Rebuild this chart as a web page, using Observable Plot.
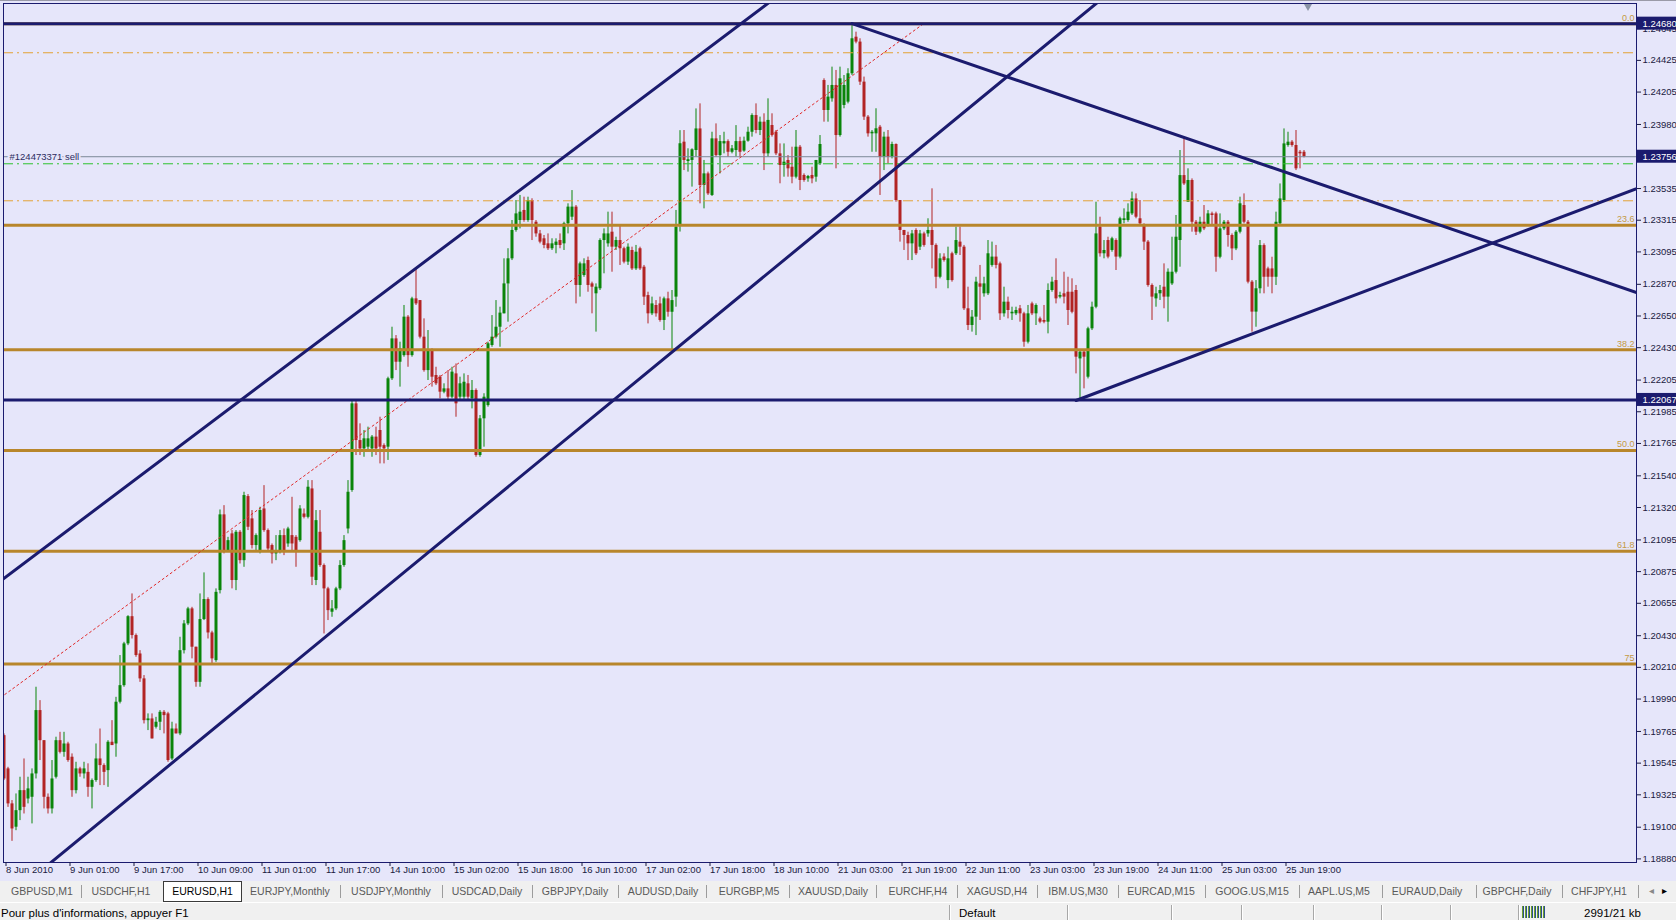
<!DOCTYPE html>
<html><head><meta charset="utf-8">
<script src="https://cdn.jsdelivr.net/npm/d3@7"></script>
<script src="https://cdn.jsdelivr.net/npm/@observablehq/plot@0.6"></script>
<style>
html,body{margin:0;padding:0;width:1676px;height:920px;overflow:hidden;background:#E6E6FA;font-family:"Liberation Sans",Arial,sans-serif;}
#chart{position:absolute;left:0;top:0;}
#topline{position:absolute;left:0;top:0;width:1676px;height:1px;background:#9A9AA8;}
#tabs{position:absolute;left:0;top:881px;width:1676px;height:21px;background:#F0F0F0;}
.tab{position:absolute;top:4px;font-size:10.5px;color:#5A5A5A;white-space:nowrap;transform:translateX(-50%);}
.tsep{position:absolute;top:4px;width:1px;height:13px;background:#9C9C9C;}
.active{position:absolute;left:163px;top:0px;width:77px;height:19px;background:#FFFFFF;border:1px solid #3A3A3A;color:#000;font-size:10.5px;line-height:19px;text-align:center;}
#status{position:absolute;left:0;top:902px;width:1676px;height:18px;background:#F0F0F0;border-top:1px solid #FFFFFF;}
.stxt{position:absolute;top:4px;font-size:11.5px;color:#000;white-space:nowrap;}
.ssep{position:absolute;top:2px;width:1px;height:15px;background:#A8A8A8;border-right:1px solid #FFFFFF;}
#icon{position:absolute;left:1522px;top:3px;width:23px;height:12px;background:repeating-linear-gradient(90deg,#6E9E2C 0 1px,#2B4F8F 1px 2px,#F0F0F0 2px 3px);}
</style></head>
<body>
<div id="chart"></div>
<div id="topline"></div>
<div id="tabs"></div>
<div id="status"></div>
<script>
// ---------- data: EURUSD H1, 8 Jun 2010 09:00 .. 25 Jun 2010 ----------
const open = [
1.19736,1.19505,1.19262,1.19100,1.19215,1.19354,1.19296,1.19308,1.19470,1.19910,
1.19701,1.19308,1.19227,1.19447,1.19701,1.19620,1.19678,1.19586,1.19354,1.19505,
1.19470,1.19481,1.19377,1.19424,1.19574,1.19528,1.19493,1.19690,1.19678,1.19968,
1.20083,1.20373,1.20562,1.20431,1.20303,1.20130,1.19840,1.19852,1.19794,1.19829,
1.19898,1.19887,1.19574,1.19782,1.19748,1.20326,1.20512,1.20616,1.20350,1.20106,
1.20542,1.20681,1.20449,1.20257,1.20743,1.21269,1.21021,1.21137,1.20813,1.21148,
1.20951,1.21396,1.21241,1.21056,1.21009,1.21310,1.21160,1.21056,1.20998,1.21021,
1.21125,1.21067,1.21125,1.21113,1.21090,1.21275,1.21252,1.21449,1.20813,1.21148,
1.20917,1.20755,1.20593,1.20616,1.20755,1.20917,1.21171,1.21438,1.22040,1.21785,
1.21727,1.21739,1.21727,1.21809,1.21855,1.21750,1.21739,1.22214,1.22491,1.22329,
1.22375,1.22642,1.22375,1.22769,1.22757,1.22503,1.22271,1.22410,1.22237,1.22225,
1.22121,1.22144,1.22086,1.22248,1.22086,1.22086,1.22179,1.22075,1.22133,1.21681,
1.21936,1.22028,1.22445,1.22503,1.22572,1.22665,1.22873,1.23047,1.23244,1.23313,
1.23383,1.23313,1.23452,1.23301,1.23220,1.23186,1.23151,1.23117,1.23140,1.23174,
1.23151,1.23290,1.23336,1.23406,1.22862,1.22931,1.23035,1.22873,1.22804,1.22839,
1.23174,1.23151,1.23232,1.23128,1.23174,1.23117,1.23024,1.23105,1.22977,1.23117,
1.22989,1.22792,1.22665,1.22723,1.22734,1.22619,1.22769,1.22676,1.22781,1.23279,
1.23857,1.23723,1.23730,1.23799,1.23949,1.23556,1.23637,1.23487,1.23880,1.23764,
1.23845,1.23861,1.23787,1.23799,1.23861,1.23795,1.23864,1.23926,1.24042,1.23938,
1.23996,1.23776,1.23973,1.23926,1.23776,1.23695,1.23730,1.23683,1.23614,1.23822,
1.23626,1.23602,1.23626,1.23614,1.23707,1.24285,1.24077,1.24158,1.24251,1.23903,
1.24112,1.24135,1.24332,1.24586,1.24552,1.24274,1.24031,1.23915,1.23915,1.23961,
1.23753,1.23892,1.23753,1.23841,1.23452,1.23244,1.23209,1.23151,1.23244,1.23128,
1.23220,1.23220,1.23244,1.23140,1.22919,1.23059,1.22896,1.23082,1.23082,1.23163,
1.23128,1.22700,1.22584,1.22642,1.22873,1.22804,1.22804,1.23001,1.23059,1.23012,
1.22665,1.22746,1.22665,1.22665,1.22700,1.22665,1.22468,1.22734,1.22665,1.22630,
1.22619,1.22607,1.22827,1.22896,1.22781,1.22804,1.22815,1.22815,1.22827,1.22352,
1.22399,1.22225,1.22561,1.22711,1.23267,1.23082,1.23174,1.23105,1.23174,1.23059,
1.23313,1.23313,1.23359,1.23463,1.23325,1.23278,1.23163,1.22862,1.22769,1.22804,
1.22850,1.22781,1.22873,1.22954,1.23174,1.23625,1.23440,1.23591,1.23301,1.23232,
1.23301,1.23278,1.23359,1.23359,1.23058,1.23255,1.23301,1.23209,1.23116,1.23232,
1.23417,1.23301,1.22885,1.22677,1.22839,1.23139,1.22977,1.22977,1.22919,1.23290,
1.23452,1.23834,1.23857,1.23834,1.23787,1.23787];
const high = [
1.19748,1.19516,1.19285,1.19331,1.19447,1.19574,1.19447,1.19505,1.20072,1.19979,
1.19701,1.19331,1.19563,1.19725,1.19759,1.19759,1.19690,1.19609,1.19551,1.19516,
1.19551,1.19540,1.19435,1.19678,1.19782,1.19540,1.19701,1.19840,1.20002,1.20292,
1.20384,1.20569,1.20720,1.20442,1.20326,1.20153,1.19887,1.19887,1.19863,1.19910,
1.19910,1.19898,1.19829,1.19817,1.20419,1.20535,1.20627,1.20627,1.20350,1.20720,
1.20866,1.20693,1.20461,1.20755,1.21303,1.21333,1.21113,1.21160,1.21160,1.21160,
1.21426,1.21410,1.21299,1.21137,1.21322,1.21472,1.21171,1.21067,1.21125,1.21160,
1.21171,1.21183,1.21391,1.21125,1.21333,1.21310,1.21507,1.21507,1.21299,1.21299,
1.20928,1.20766,1.20674,1.20766,1.20951,1.21125,1.21507,1.22068,1.22063,1.21901,
1.21855,1.21878,1.21820,1.21878,1.21947,1.21762,1.22225,1.22572,1.22514,1.22468,
1.22723,1.22653,1.22780,1.22977,1.22757,1.22630,1.22549,1.22422,1.22294,1.22237,
1.22179,1.22271,1.22294,1.22317,1.22225,1.22248,1.22237,1.22202,1.22144,1.21959,
1.22110,1.22468,1.22653,1.22757,1.22711,1.23047,1.23117,1.23313,1.23452,1.23487,
1.23475,1.23475,1.23464,1.23313,1.23244,1.23209,1.23220,1.23186,1.23186,1.23220,
1.23301,1.23429,1.23521,1.23417,1.23024,1.23047,1.23059,1.22885,1.22873,1.23186,
1.23255,1.23371,1.23371,1.23197,1.23279,1.23128,1.23151,1.23128,1.23140,1.23128,
1.23001,1.22815,1.22781,1.22757,1.22781,1.22781,1.22815,1.22827,1.23383,1.23937,
1.23938,1.23811,1.23811,1.24088,1.24123,1.23730,1.23649,1.23926,1.23984,1.23903,
1.23926,1.23873,1.23834,1.23972,1.23891,1.23892,1.23961,1.24054,1.24123,1.24031,
1.24054,1.24158,1.24054,1.23938,1.23845,1.23845,1.23764,1.23822,1.23938,1.23834,
1.23637,1.23626,1.23683,1.23730,1.23903,1.24297,1.24251,1.24378,1.24355,1.24378,
1.24320,1.24367,1.24667,1.24621,1.24575,1.24309,1.24042,1.23938,1.24089,1.23973,
1.23926,1.23938,1.23857,1.23845,1.23452,1.23244,1.23232,1.23244,1.23256,1.23244,
1.23232,1.23325,1.23533,1.23151,1.23082,1.23082,1.23128,1.23093,1.23267,1.23267,
1.23140,1.22850,1.22688,1.22919,1.23001,1.22919,1.23174,1.23163,1.23140,1.23024,
1.22850,1.22781,1.22711,1.22711,1.22723,1.22676,1.22723,1.22746,1.22734,1.22642,
1.22723,1.22873,1.22919,1.23047,1.22815,1.22954,1.22919,1.22908,1.22862,1.22410,
1.22410,1.22572,1.22746,1.23440,1.23336,1.23174,1.23197,1.23197,1.23186,1.23336,
1.23394,1.23429,1.23510,1.23498,1.23452,1.23290,1.23174,1.22873,1.22850,1.22862,
1.23012,1.22977,1.23197,1.23348,1.23799,1.23880,1.23672,1.23602,1.23313,1.23336,
1.23417,1.23382,1.23371,1.23371,1.23359,1.23313,1.23313,1.23220,1.23243,1.23475,
1.23498,1.23313,1.22896,1.22896,1.23174,1.23151,1.22989,1.23058,1.23371,1.23567,
1.23949,1.23926,1.23868,1.23938,1.23799,1.23799];
const low = [
1.19424,1.19238,1.19002,1.19076,1.19146,1.19192,1.19262,1.19123,1.19435,1.19563,
1.19227,1.19192,1.19192,1.19435,1.19609,1.19586,1.19551,1.19308,1.19331,1.19447,
1.19435,1.19308,1.19227,1.19412,1.19389,1.19389,1.19377,1.19667,1.19586,1.19956,
1.20072,1.20361,1.20407,1.20280,1.20106,1.19817,1.19771,1.19713,1.19782,1.19771,
1.19748,1.19551,1.19563,1.19748,1.19736,1.20303,1.20500,1.20269,1.20072,1.20072,
1.20535,1.20407,1.20227,1.20245,1.20720,1.20998,1.21009,1.20755,1.20743,1.20928,
1.20905,1.21160,1.21032,1.21021,1.20998,1.21148,1.21021,1.20928,1.20951,1.20998,
1.20986,1.21044,1.21009,1.20905,1.21079,1.21241,1.21241,1.20778,1.20778,1.20905,
1.20442,1.20535,1.20558,1.20604,1.20743,1.20905,1.21137,1.21426,1.21681,1.21681,
1.21669,1.21716,1.21669,1.21681,1.21623,1.21623,1.21647,1.22202,1.22271,1.22156,
1.22364,1.22294,1.22364,1.22723,1.22491,1.22260,1.22202,1.22156,1.22167,1.22075,
1.22110,1.22063,1.22075,1.21947,1.22063,1.22063,1.22063,1.22005,1.21669,1.21669,
1.21739,1.22017,1.22433,1.22491,1.22433,1.22665,1.22607,1.23035,1.23232,1.23255,
1.23301,1.23301,1.23174,1.23197,1.23151,1.23117,1.23105,1.23105,1.23082,1.23117,
1.23105,1.23220,1.23313,1.22734,1.22781,1.22919,1.22815,1.22665,1.22538,1.22827,
1.22943,1.23128,1.22954,1.23105,1.23001,1.23012,1.23001,1.22966,1.22966,1.22966,
1.22723,1.22595,1.22653,1.22642,1.22607,1.22549,1.22642,1.22410,1.22711,1.23233,
1.23660,1.23649,1.23545,1.23753,1.23429,1.23394,1.23487,1.23480,1.23753,1.23637,
1.23776,1.23753,1.23776,1.23753,1.23753,1.23787,1.23857,1.23892,1.23915,1.23903,
1.23660,1.23753,1.23892,1.23764,1.23568,1.23614,1.23614,1.23568,1.23602,1.23521,
1.23579,1.23579,1.23568,1.23579,1.23695,1.23996,1.23996,1.24135,1.23672,1.23892,
1.24089,1.24123,1.24320,1.24540,1.24251,1.24008,1.23892,1.23787,1.23787,1.23487,
1.23660,1.23707,1.23741,1.23440,1.23163,1.23105,1.23035,1.23035,1.23070,1.23105,
1.23128,1.23197,1.22977,1.22839,1.22908,1.23024,1.22839,1.22885,1.23070,1.23070,
1.22688,1.22549,1.22538,1.22514,1.22619,1.22781,1.22792,1.22989,1.22977,1.22619,
1.22642,1.22630,1.22619,1.22653,1.22607,1.22433,1.22456,1.22653,1.22584,1.22596,
1.22596,1.22526,1.22815,1.22734,1.22769,1.22734,1.22584,1.22665,1.22248,1.22070,
1.22144,1.22213,1.22549,1.22700,1.23059,1.23047,1.23047,1.23093,1.22966,1.23047,
1.23290,1.23301,1.23348,1.23325,1.23278,1.23105,1.22850,1.22619,1.22711,1.22758,
1.22700,1.22607,1.22862,1.22942,1.22989,1.23556,1.23440,1.23232,1.23209,1.23220,
1.23243,1.23267,1.23278,1.22954,1.23047,1.23243,1.23128,1.23035,1.23104,1.23220,
1.23290,1.22873,1.22538,1.22572,1.22804,1.22804,1.22850,1.22804,1.22862,1.23278,
1.23440,1.23822,1.23822,1.23660,1.23672,1.23748];
const close = [
1.19435,1.19262,1.19088,1.19215,1.19354,1.19238,1.19366,1.19470,1.19910,1.19701,
1.19308,1.19227,1.19435,1.19701,1.19620,1.19678,1.19563,1.19354,1.19505,1.19470,
1.19505,1.19377,1.19424,1.19574,1.19528,1.19481,1.19690,1.19667,1.19968,1.20083,
1.20373,1.20562,1.20431,1.20292,1.20130,1.19840,1.19852,1.19713,1.19829,1.19898,
1.19875,1.19563,1.19782,1.19748,1.20326,1.20512,1.20616,1.20350,1.20106,1.20542,
1.20681,1.20449,1.20269,1.20731,1.21269,1.21021,1.21090,1.20813,1.21148,1.20951,
1.21403,1.21183,1.21056,1.21125,1.21299,1.21160,1.21032,1.20998,1.21021,1.21125,
1.21009,1.21171,1.21067,1.21021,1.21310,1.21252,1.21461,1.20836,1.21229,1.20917,
1.20755,1.20604,1.20616,1.20755,1.20917,1.21090,1.21426,1.22040,1.21785,1.21727,
1.21797,1.21797,1.21809,1.21727,1.21739,1.21727,1.22214,1.22491,1.22329,1.22422,
1.22642,1.22375,1.22769,1.22734,1.22503,1.22271,1.22410,1.22225,1.22179,1.22121,
1.22144,1.22086,1.22260,1.22040,1.22179,1.22190,1.22086,1.22133,1.21681,1.21936,
1.22086,1.22457,1.22503,1.22572,1.22670,1.22873,1.23047,1.23244,1.23359,1.23371,
1.23313,1.23452,1.23313,1.23220,1.23163,1.23140,1.23117,1.23151,1.23163,1.23140,
1.23290,1.23406,1.23406,1.22862,1.23012,1.23012,1.22862,1.22850,1.22850,1.23174,
1.23220,1.23220,1.23128,1.23174,1.23117,1.23024,1.23128,1.22977,1.23093,1.22977,
1.22781,1.22665,1.22734,1.22665,1.22619,1.22769,1.22676,1.22757,1.23267,1.23846,
1.23730,1.23735,1.23804,1.23949,1.23556,1.23637,1.23498,1.23880,1.23764,1.23861,
1.23861,1.23787,1.23811,1.23861,1.23787,1.23864,1.23926,1.24042,1.23938,1.23996,
1.23776,1.24008,1.23903,1.23776,1.23695,1.23718,1.23672,1.23614,1.23822,1.23591,
1.23591,1.23619,1.23602,1.23730,1.23841,1.24077,1.24170,1.24251,1.23903,1.24297,
1.24251,1.24332,1.24575,1.24552,1.24274,1.24031,1.23915,1.23926,1.23950,1.23753,
1.23892,1.23753,1.23841,1.23452,1.23244,1.23209,1.23151,1.23220,1.23082,1.23220,
1.23140,1.23244,1.23140,1.22919,1.23047,1.23035,1.23047,1.22896,1.23174,1.23128,
1.22700,1.22584,1.22642,1.22885,1.22850,1.22873,1.23082,1.23059,1.23001,1.22665,
1.22746,1.22688,1.22676,1.22688,1.22665,1.22468,1.22665,1.22665,1.22723,1.22607,
1.22607,1.22827,1.22885,1.22769,1.22792,1.22781,1.22688,1.22676,1.22364,1.22399,
1.22364,1.22561,1.22711,1.23220,1.23082,1.23105,1.23059,1.23186,1.23059,1.23325,
1.23325,1.23371,1.23463,1.23336,1.23290,1.23163,1.22862,1.22781,1.22804,1.22827,
1.22781,1.22954,1.22954,1.23197,1.23625,1.23567,1.23591,1.23301,1.23232,1.23301,
1.23255,1.23359,1.23348,1.23058,1.23255,1.23301,1.23209,1.23116,1.23232,1.23429,
1.23301,1.22885,1.22677,1.22839,1.23139,1.22919,1.22919,1.22919,1.23301,1.23463,
1.23845,1.23857,1.23834,1.23672,1.23776,1.23756];

// time axis labels (bar index -> label)
const xTickBars = [0,16,32,48,64,80,96,112,128,144,160,176,192,208,224,240,256,272,288,304,320];
const xTickLabels = ["8 Jun 2010","9 Jun 01:00","9 Jun 17:00","10 Jun 09:00","11 Jun 01:00","11 Jun 17:00",
  "14 Jun 10:00","15 Jun 02:00","15 Jun 18:00","16 Jun 10:00","17 Jun 02:00","17 Jun 18:00","18 Jun 10:00",
  "21 Jun 03:00","21 Jun 19:00","22 Jun 11:00","23 Jun 03:00","23 Jun 19:00","24 Jun 11:00","25 Jun 03:00","25 Jun 19:00"];
// price axis labels
const yTickValues = [1.24645,1.24425,1.24205,1.23980,1.23535,1.23315,1.23095,1.22870,1.22650,1.22430,1.22205,
  1.21985,1.21765,1.21540,1.21320,1.21095,1.20875,1.20655,1.20430,1.20210,1.19990,1.19765,1.19545,1.19325,1.19100,1.18880];
const boxedPrices = [1.24680, 1.23756, 1.22067];

// chart objects
const hLinePrices = [1.24680, 1.22067];
const fibHigh = 1.24680, fibLow = 1.18752;
const fibRatios = [0, 23.6, 38.2, 50, 61.8, 75];
const fibLabels = ["0.0", "23.6", "38.2", "50.0", "61.8", "75"];
const fibDiagonal = [{k: -62.4, p: 1.18752}, {k: 229.9, p: 1.24680}];
const orderPrice = 1.23756, orderLabel = "#124473371 sell";
const orangeLevels = [1.24478, 1.23450];
const greenLevels = [1.23707];
const trendUpperChannel = [{k: 0, p: 1.20828}, {k: 128, p: 1.23504}];
const trendLowerChannel = [{k: 41, p: 1.19523}, {k: 150, p: 1.22011}];
const trendFromHigh = [{k: 212, p: 1.24680}, {k: 295, p: 1.23890}];
const trendFromLow = [{k: 268, p: 1.22063}, {k: 312, p: 1.22525}];
const shiftMarkerBar = 326;

// ---------- drawing ----------
const navy = "#1B1B6E", bull = "#0A850A", bear = "#B22424", gold = "#B8862B";
const xDomain = [-0.125, 408.125];
const yDomain = [1.18855, 1.24820];
const bars = open.map((o, i) => ({i, o, h: high[i], l: low[i], c: close[i]}));
const up = bars.filter(d => d.c >= d.o), dn = bars.filter(d => d.c < d.o);
const fibLevels = fibRatios.map((r, j) => ({p: fibHigh - r / 100 * (fibHigh - fibLow), label: fibLabels[j]}));
function ray(pts, both) {
  const [a, b] = pts, s = (b.p - a.p) / (b.k - a.k);
  const k0 = both ? xDomain[0] - 20 : a.k, k1 = xDomain[1] + 20;
  return [{k: k0, p: a.p + s * (k0 - a.k)}, {k: k1, p: a.p + s * (k1 - a.k)}];
}
const labelOf = new Map(xTickBars.map((b, j) => [b, xTickLabels[j]]));
const fmt5 = d3.format(".5f");
const font = "'Liberation Sans', Arial, sans-serif";

const svg = Plot.plot({
  width: 1676, height: 881,
  marginTop: 3, marginBottom: 19, marginLeft: 3, marginRight: 40,
  x: {type: "linear", domain: xDomain},
  y: {type: "linear", domain: yDomain},
  style: {background: "#E6E6FA", color: "#1A1A3E", fontFamily: font, fontSize: "9.5px", overflow: "visible"},
  marks: [
    Plot.ruleX(dn, {x: "i", y1: "l", y2: "h", stroke: bear, strokeWidth: 1, clip: true}),
    Plot.ruleX(up, {x: "i", y1: "l", y2: "h", stroke: bull, strokeWidth: 1, clip: true}),
    Plot.ruleX(dn, {x: "i", y1: "o", y2: "c", stroke: bear, strokeWidth: 3, clip: true}),
    Plot.ruleX(up, {x: "i", y1: "o", y2: "c", stroke: bull, strokeWidth: 3, clip: true}),
    Plot.ruleY(fibLevels, {y: "p", stroke: gold, strokeWidth: 3}),
    Plot.ruleY(orangeLevels, {stroke: "#E3A235", strokeWidth: 1, strokeDasharray: "10,4,2,4"}),
    Plot.ruleY(greenLevels, {stroke: "#2FC42F", strokeWidth: 1, strokeDasharray: "10,4,2,4"}),
    Plot.ruleY([orderPrice], {stroke: "#7C8898", strokeWidth: 1}),
    Plot.text([orderLabel], {frameAnchor: "left", y: [orderPrice], text: d => d, dx: 6, textAnchor: "start",
      fill: "#2C2C60", stroke: "#E6E6FA", strokeWidth: 4, paintOrder: "stroke", fontSize: 9.5}),
    Plot.line(fibDiagonal, {x: "k", y: "p", stroke: "#E02828", strokeWidth: 1, strokeDasharray: "2,3", clip: true}),
    Plot.ruleY(hLinePrices, {stroke: navy, strokeWidth: 3}),
    Plot.line(ray(trendUpperChannel, true), {x: "k", y: "p", stroke: navy, strokeWidth: 3, clip: true}),
    Plot.line(ray(trendLowerChannel, true), {x: "k", y: "p", stroke: navy, strokeWidth: 3, clip: true}),
    Plot.line(ray(trendFromHigh, false), {x: "k", y: "p", stroke: navy, strokeWidth: 3, clip: true}),
    Plot.line(ray(trendFromLow, false), {x: "k", y: "p", stroke: navy, strokeWidth: 3, clip: true}),
    Plot.text(fibLevels, {y: "p", text: "label", frameAnchor: "right", textAnchor: "end", dx: -2, dy: -6,
      fill: "#C49A45", fontSize: 9}),
    Plot.dot([shiftMarkerBar], {x: d => d, frameAnchor: "top", symbol: "triangle", r: 3.2, rotate: 180,
      fill: "#8A94A6", stroke: "none", dy: 2.5}),
    Plot.frame({stroke: navy, strokeWidth: 1}),
    Plot.axisY(yTickValues, {anchor: "right", tickSize: 4, tickPadding: 2, tickFormat: fmt5, label: null, fontSize: 9.5}),
    Plot.axisX(xTickBars, {anchor: "bottom", tickSize: 4, tickPadding: 0, tickFormat: d => labelOf.get(d),
      textAnchor: "start", dx: 2, label: null, fontSize: 9.5}),
    Plot.text(boxedPrices, {y: d => d, text: d => fmt5(d), frameAnchor: "right", textAnchor: "start", dx: 6,
      fill: "#FFFFFF", fontSize: 9.5, ariaLabel: "boxed-prices"})
  ]
});
document.getElementById("chart").appendChild(svg);
// navy label boxes on the price axis, placed through the y scale, behind their white texts
const ys = svg.scale("y");
const boxedText = svg.querySelector('text[aria-label="boxed-prices"]');
const boxedGroup = boxedText ? boxedText.parentNode : null;
const boxG = document.createElementNS("http://www.w3.org/2000/svg", "g");
boxedPrices.forEach(p => {
  const yy = ys.apply(p);
  const r = document.createElementNS("http://www.w3.org/2000/svg", "rect");
  r.setAttribute("x", 1637); r.setAttribute("y", yy - 6.5); r.setAttribute("width", 39); r.setAttribute("height", 13);
  r.setAttribute("fill", navy); boxG.appendChild(r);
});
if (boxedGroup && boxedGroup.parentNode) boxedGroup.parentNode.insertBefore(boxG, boxedGroup);
else svg.insertBefore(boxG, svg.lastChild);

// ---------- terminal chrome: tab bar and status bar ----------
const tabNames = ["GBPUSD,M1","USDCHF,H1","EURUSD,H1","EURJPY,Monthly","USDJPY,Monthly","USDCAD,Daily","GBPJPY,Daily",
  "AUDUSD,Daily","EURGBP,M5","XAUUSD,Daily","EURCHF,H4","XAGUSD,H4","IBM.US,M30","EURCAD,M15","GOOG.US,M15",
  "AAPL.US,M5","EURAUD,Daily","GBPCHF,Daily","CHFJPY,H1"];
const tabCenters = [42,121,201,290,391,487,575,663,749,833,918,997,1078,1161,1252,1339,1427,1517,1599];
const tabSeps = [81,340,442,532,618,706,789,876,957,1037,1118,1205,1299,1382,1476,1562,1638];
const tabs = document.getElementById("tabs");
tabNames.forEach((t, j) => {
  const el = document.createElement("div");
  if (j === 2) { el.className = "active"; el.textContent = t; }
  else { el.className = "tab"; el.style.left = tabCenters[j] + "px"; el.textContent = t; }
  tabs.appendChild(el);
});
tabSeps.forEach(x => { const s = document.createElement("div"); s.className = "tsep"; s.style.left = x + "px"; tabs.appendChild(s); });
[["\u25C2", 1649, "#888"], ["\u25B8", 1662, "#000"]].forEach(([c, x, col]) => {
  const a = document.createElement("div"); a.className = "tab"; a.style.left = x + "px"; a.style.color = col;
  a.style.transform = "none"; a.style.fontSize = "10px"; a.textContent = c; tabs.appendChild(a);
});
const status = document.getElementById("status");
[["Pour plus d'informations, appuyer F1", 1], ["Default", 959], ["2991/21 kb", 1584]].forEach(([t, x]) => {
  const el = document.createElement("div"); el.className = "stxt"; el.style.left = x + "px"; el.textContent = t; status.appendChild(el);
});
[949,1067,1171,1241,1313,1381,1450,1518].forEach(x => {
  const s = document.createElement("div"); s.className = "ssep"; s.style.left = x + "px"; status.appendChild(s);
});
const icon = document.createElement("div"); icon.id = "icon"; status.appendChild(icon);
</script>
</body></html>
